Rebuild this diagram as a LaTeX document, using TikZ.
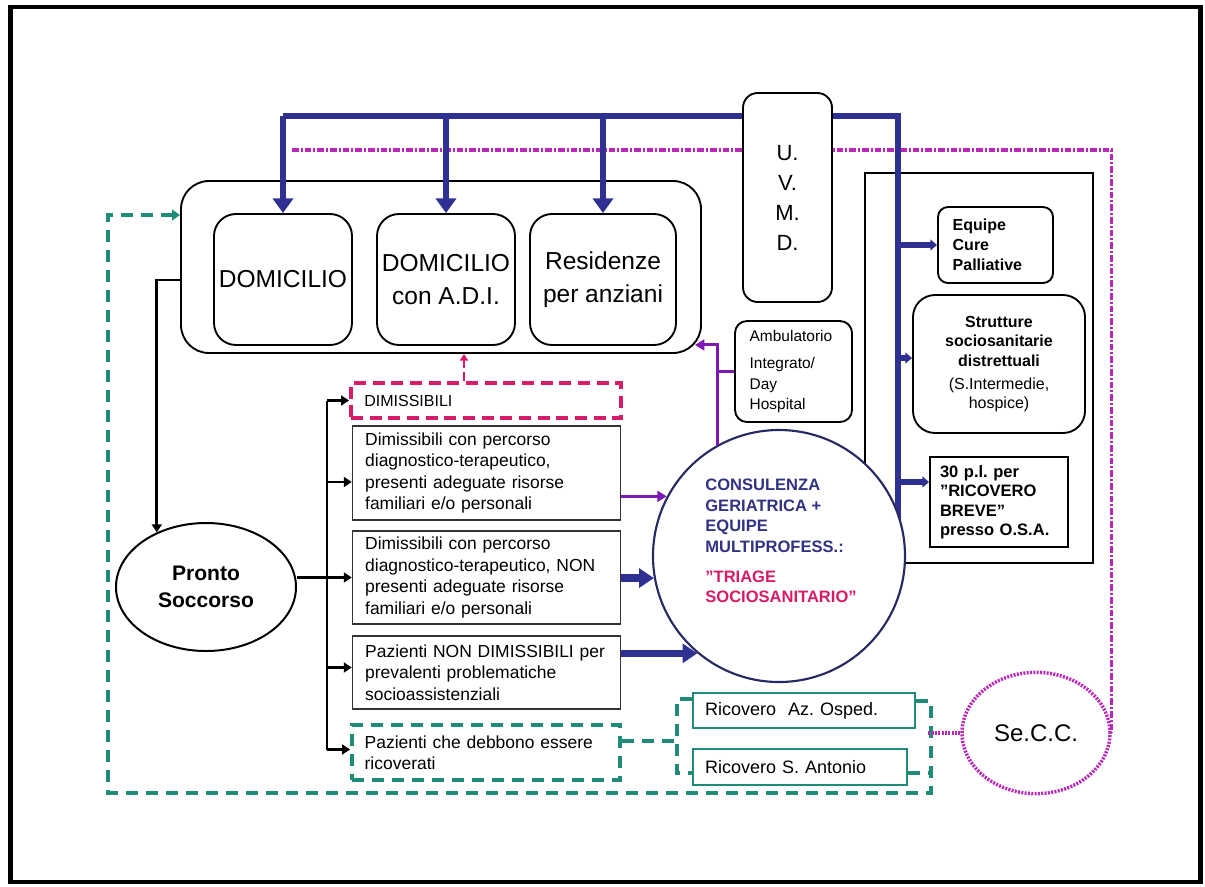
\documentclass[tikz,border=0pt]{standalone}
\usepackage{fontspec}
\setmainfont{Liberation Sans}
\usetikzlibrary{arrows.meta,calc,shapes.geometric}
\pgfdeclarelayer{bg}
\pgfsetlayers{bg,main}
\definecolor{navyb}{RGB}{46,49,146}
\definecolor{navyt}{RGB}{50,50,130}
\definecolor{circb}{RGB}{40,40,100}
\definecolor{purp}{RGB}{125,25,180}
\definecolor{pinkc}{RGB}{214,28,104}
\definecolor{tealc}{RGB}{30,140,120}
\definecolor{magc}{RGB}{185,40,185}
\newcommand{\setfs}[2]{\fontsize{#1pt}{#2pt}\selectfont}
\frenchspacing
\begin{document}
\begin{tikzpicture}[x=0.75pt,y=-0.75pt,
  rbx/.style={draw=black, line width=1.4pt, rounded corners=#1, fill=white, inner sep=0pt},
  bigtxt/.style={font=\setfs{18.4}{24.75}, align=center},
  txtbox/.style={draw=black!80, line width=1.1pt, inner xsep=9.5pt, inner ysep=0pt,
     text width=182pt, align=left, font=\setfs{13.1}{16.1}},
  blueline/.style={draw=navyb, line width=5.2pt},
  bluearr/.style={draw=navyb, line width=5.2pt, -{Triangle[width=15pt,length=11pt]}},
  bluestub/.style={draw=navyb, line width=4.2pt, -{Triangle[width=8pt,length=5pt]}},
  bluebig/.style={draw=navyb, line width=5.5pt, -{Triangle[width=14pt,length=11pt]}},
  blkarr/.style={draw=black, line width=2.2pt, -{Triangle[width=7.5pt,length=6pt]}},
  blkline/.style={draw=black, line width=2.2pt},
  purparr/.style={draw=purp, line width=2.3pt, -{Triangle[width=8pt,length=7pt]}},
  purpline/.style={draw=purp, line width=2.3pt},
  pinkdash/.style={draw=pinkc, line width=3pt, dash pattern=on 9pt off 5pt},
  pinkarr/.style={draw=pinkc, line width=2.2pt, dash pattern=on 7pt off 3pt, -{Triangle[width=6pt,length=5pt]}},
  tealdash/.style={draw=tealc, line width=3pt, dash pattern=on 9pt off 6pt},
  tealarr/.style={tealdash, -{Triangle[width=8pt,length=6pt]}},
  magdash/.style={draw=magc, line width=2.4pt, dash pattern=on 5pt off 1.5pt on 1.5pt off 1.5pt},
  magdot/.style={draw=magc, line width=2.6pt, dash pattern=on 1.5pt off 1pt}
]
\useasboundingbox (0,0) rectangle (1205,886);
\draw[line width=3.4pt] (10.5,7) rectangle (1200.5,882);

% ---------- nodes ----------
\node[rbx=21pt, minimum width=390pt, minimum height=129pt] (home) at (441,267) {};
\node[rbx=16.5pt, minimum width=103.5pt, minimum height=98.25pt, bigtxt] (dom) at (283,279.5) {DOMICILIO};
\node[rbx=16.5pt, minimum width=103.5pt, minimum height=98.25pt, bigtxt] (adi) at (446,279.5) {DOMICILIO\\con A.D.I.};
\node[rbx=16.5pt, minimum width=109.5pt, minimum height=98.25pt, bigtxt] (res) at (603,279.5) {Residenze\\per anziani};
\node[rbx=11pt, minimum width=66.75pt, minimum height=156.75pt, align=center,
      font=\setfs{16.5}{22.5}] (uvmd) at (787.5,197.5) {U.\\V.\\M.\\D.};
\node[rbx=9pt, minimum width=87.75pt, minimum height=75.75pt, inner xsep=11pt,
      text width=65.75pt, align=left, font=\setfs{11.6}{15.4}] (amb) at (793.5,371.5)
      {Ambulatorio\\[5pt]Integrato/\\Day\\Hospital};
\node[rbx=7.5pt, minimum width=86.25pt, minimum height=57pt, inner xsep=11pt,
      text width=64.25pt, align=left, font=\setfs{12}{15.2}\bfseries] (eq) at (995.5,245)
      {Equipe\\Cure\\Palliative};
\node[rbx=16.5pt, minimum width=129pt, minimum height=103.5pt, align=center,
      font=\setfs{12}{14.8}] (strut) at (999,364)
      {\textbf{Strutture}\\\textbf{sociosanitarie}\\\textbf{distrettuali}\\[2pt](S.Intermedie,\\hospice)};
\node[draw=black, line width=1.4pt, minimum width=103.5pt, minimum height=67.5pt, inner xsep=7.5pt,
      text width=88.5pt, align=left, font=\setfs{12.4}{14.6}\bfseries] (posti) at (999,502)
      {30 p.l. per\\"RICOVERO\\BREVE"\\presso O.S.A.};
\node[circle, draw=circb, line width=1.6pt, fill=white, minimum size=189pt, inner sep=0pt] (cons) at (779,556) {};
\node[align=left, inner sep=0pt, text=navyt, font=\setfs{12.4}{15.4}\bfseries] (constxt) at (781,541)
      {CONSULENZA\\GERIATRICA +\\EQUIPE\\MULTIPROFESS.:\\[7pt]\textcolor{pinkc}{"TRIAGE}\\\textcolor{pinkc}{SOCIOSANITARIO"}};
\node[ellipse, draw=black, line width=1.5pt, minimum width=135pt, minimum height=96pt, inner sep=0pt,
      align=center, font=\setfs{15.8}{20}\bfseries] (ps) at (206,587) {Pronto\\Soccorso};
\node[draw=pinkc, line width=3pt, dash pattern=on 9pt off 5pt, minimum height=26.25pt, inner xsep=10pt,
      inner ysep=0pt, text width=182.5pt, align=left, font=\setfs{12}{14}] (dimi) at (486,400.5) {DIMISSIBILI};
\node[txtbox, minimum height=70.5pt] (b2) at (486.5,473)
      {Dimissibili con percorso\\diagnostico-terapeutico,\\presenti adeguate risorse\\familiari e/o personali};
\node[txtbox, minimum height=69.75pt] (b3) at (486.5,577.5)
      {Dimissibili con percorso\\diagnostico-terapeutico, NON\\presenti adeguate risorse\\familiari e/o personali};
\node[txtbox, minimum height=54.75pt] (b4) at (486.5,672.5)
      {Pazienti NON DIMISSIBILI per\\prevalenti problematiche\\socioassistenziali};
\node[txtbox, draw=tealc, line width=3pt, dash pattern=on 9pt off 6pt, minimum height=41.25pt] (b5) at (486,752.5)
      {Pazienti che debbono essere\\ricoverati};
\node[draw=tealc, line width=1.2pt, minimum width=166.5pt, minimum height=26.25pt, inner xsep=9pt,
      text width=148.5pt, align=left, font=\setfs{13.5}{16}] (osp) at (804,710.5) {Ricovero~~Az. Osped.};
\node[draw=tealc, line width=1.2pt, minimum width=160.5pt, minimum height=27pt, inner xsep=9pt,
      text width=142.5pt, align=left, font=\setfs{13.5}{16}] (ant) at (800,767) {Ricovero S. Antonio};
\node[ellipse, draw=magc, line width=2.6pt, dash pattern=on 1.5pt off 1pt, minimum width=111pt,
      minimum height=91pt, inner sep=0pt, font=\setfs{18}{20}] (secc) at (1036,733) {Se.C.C.};

% ---------- helper coordinates ----------
\coordinate (bt) at (288,116);
\coordinate (bv) at (898,116);
\coordinate (mg) at (292,150);
\coordinate (bus) at (327,400);
\coordinate (tealx) at (108,215);
\coordinate (pk) at ($(dimi.north)+(-22,0)$);
\coordinate (pt) at ($(home.south east)+(-7,-9)$);
\coordinate (pw) at ($(posti.west)+(0,-20)$);

% ---------- background lines ----------
\begin{pgfonlayer}{bg}
  \draw[magdash] (mg) -| (secc.east);
  \node[draw=black, line width=1.2pt, minimum width=171pt, minimum height=292.5pt, inner sep=0pt] (rbox) at (979,368) {};
  \draw[blueline] (dom.north |- bt) -- (uvmd.west |- bt);
  \draw[blueline] (uvmd.east |- bt) -- (bv) -- (bv |- cons.center);
\end{pgfonlayer}

% ---------- blue arrows ----------
\draw[bluearr] (dom.north |- bt) -- (dom.north);
\draw[bluearr] (adi.north |- bt) -- (adi.north);
\draw[bluearr] (res.north |- bt) -- (res.north);
\draw[bluestub] (bv |- eq.west) -- (eq.west);
\draw[bluestub] ($(bv |- strut.west)+(0,-6)$) -- ($(strut.west)+(0,-6)$);
\draw[bluestub] (bv |- pw) -- (pw);

% ---------- black arrows ----------
\draw[blkarr] ($(home.west)+(0,13)$) -| (ps.132);
\draw[blkarr] (ps.east |- b3.west) -- (b3.west);
\draw[blkline] (bus |- dimi.west) -- ($(bus |- b5.west)+(0,-3)$);
\draw[blkarr] (bus |- dimi.west) -- (dimi.west);
\draw[blkarr] ($(bus |- b2.west)+(0,9)$) -- ($(b2.west)+(0,9)$);
\draw[blkarr] ($(bus |- b4.west)+(0,-5)$) -- ($(b4.west)+(0,-5)$);
\draw[blkarr] ($(bus |- b5.west)+(0,-3)$) -- ($(b5.west)+(0,-3)$);

% ---------- to the circle ----------
\draw[purparr] (cons.152 -| b2.east) -- (cons.152);
\draw[bluebig] (cons.190 -| b3.east) -- (cons.190);
\draw[bluebig] (cons.230 -| b4.east) -- (cons.230);
\draw[purparr] (cons.119) |- (pt);
\draw[purpline] (cons.119 |- amb.west) -- (amb.west);
\draw[pinkarr] (pk) -- (pk |- home.south);

% ---------- teal dashed ----------
\draw[tealdash] ($(b5.east)+(0,-12)$) -- ++(57,0);
\draw[tealdash] ($(osp.west)+(0,-12)$) -| ($(ant.west)+(-15,6)$) -- ($(ant.west)+(0,6)$);
\draw[tealdash] ($(ant.east)+(0,6)$) -- ++(23,0);
\draw[tealarr] ($(osp.east)+(0,-10)$) -- ++(15,0) -- ++(0,92) -| (tealx) -- (home.west |- tealx);
\draw[magdot] (secc.west) -- ++(-32,0);
\end{tikzpicture}
\end{document}
